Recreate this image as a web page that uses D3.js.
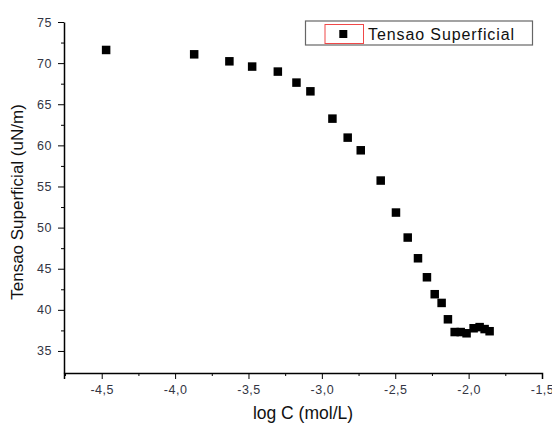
<!doctype html>
<html lang="en">
<head>
    <meta charset="utf-8">
    <title>Tensao Superficial</title>
    <script src="https://cdn.jsdelivr.net/npm/d3@7"></script>
    <style>
        body { margin: 0; background: #fff; }
        svg { display: block; font-family: Arial, "Liberation Sans", sans-serif; }
        .tick text { fill: #333544; font-size: 12.5px; letter-spacing: 0.5px; }
    </style>
</head>
<body>
    <svg></svg>
    <script>
        var width = 552;
        var height = 425;

        // log C (mol/L) vs tensao superficial (uN/m)
        var logC = [-4.47, -3.87, -3.63, -3.475, -3.30, -3.173, -3.078, -2.928, -2.824, -2.735,
            -2.599, -2.495, -2.415, -2.345, -2.284, -2.231, -2.184, -2.141,
            -2.095, -2.054, -2.014, -1.966, -1.925, -1.891, -1.857];
        var tensao = [71.6, 71.07, 70.22, 69.58, 68.97, 67.63, 66.57, 63.25, 60.94, 59.4,
            55.72, 51.83, 48.79, 46.27, 43.96, 41.9, 40.84, 38.85,
            37.3, 37.3, 37.15, 37.76, 37.9, 37.66, 37.4];
        var xTicks = [-4.5, -4.0, -3.5, -3.0, -2.5, -2.0, -1.5];
        var yTicks = [35, 40, 45, 50, 55, 60, 65, 70, 75];
        var seriesName = 'Tensao Superficial';

        var plotLeft = 64, plotRight = 542, plotTop = 22, plotBottom = 373;

        var xScale = d3.scaleLinear().domain([-4.757, -1.5]).range([plotLeft, plotRight]);
        var yScale = d3.scaleLinear().domain([32.32, 75]).range([plotBottom, plotTop]);

        var svg = d3.select('svg').attr('width', width).attr('height', height);
        var fmt = function (d) { return d.toFixed(1).replace('.', ','); };

        // minor ticks
        var xMinor = d3.range(-4.75, -1.5, 0.5);
        var yMinor = d3.range(37.5, 75, 5);

        svg.append('g')
            .attr('transform', 'translate(0,' + plotBottom + ')')
            .call(d3.axisBottom(xScale).tickValues(xMinor).tickSize(3).tickFormat(''))
            .call(function (g) { g.select('.domain').remove(); });
        svg.append('g')
            .attr('transform', 'translate(' + plotLeft + ',0)')
            .call(d3.axisLeft(yScale).tickValues(yMinor).tickSize(3).tickFormat(''))
            .call(function (g) { g.select('.domain').remove(); });

        svg.append('g')
            .attr('transform', 'translate(0,' + plotBottom + ')')
            .call(d3.axisBottom(xScale).tickValues(xTicks).tickSize(6).tickSizeOuter(6).tickPadding(6).tickFormat(fmt));
        svg.append('g')
            .attr('transform', 'translate(' + plotLeft + ',0)')
            .call(d3.axisLeft(yScale).tickValues(yTicks).tickSize(6).tickSizeOuter(0).tickPadding(6).tickFormat(function (d) { return d; }));

        svg.selectAll('.domain').attr('stroke', '#000').attr('stroke-width', 1.5);
        svg.selectAll('.tick line').attr('stroke', '#000');

        // axis titles
        svg.append('text')
            .attr('x', (plotLeft + plotRight) / 2)
            .attr('y', 419)
            .attr('text-anchor', 'middle')
            .attr('font-size', '17.5px')
            .attr('fill', '#111')
            .text('log C (mol/L)');
        svg.append('text')
            .attr('transform', 'translate(23,' + 202 + ') rotate(-90)')
            .attr('text-anchor', 'middle')
            .attr('font-size', '17px')
            .attr('fill', '#111')
            .text('Tensao Superficial (uN/m)');

        // points
        var sz = 8.5;
        svg.selectAll('rect.pt')
            .data(logC)
            .enter()
            .append('rect')
            .attr('class', 'pt')
            .attr('x', function (d) { return xScale(d) - sz / 2; })
            .attr('y', function (d, i) { return yScale(tensao[i]) - sz / 2; })
            .attr('width', sz)
            .attr('height', sz)
            .attr('fill', '#000');

        // legend
        var lg = svg.append('g');
        lg.append('rect')
            .attr('x', 305.5).attr('y', 21)
            .attr('width', 227).attr('height', 24)
            .attr('fill', '#fff').attr('stroke', '#666').attr('stroke-width', 1.2);
        lg.append('rect')
            .attr('x', 325).attr('y', 24.5)
            .attr('width', 38.5).attr('height', 19)
            .attr('fill', 'none').attr('stroke', '#f04848').attr('stroke-width', 1);
        lg.append('rect')
            .attr('x', 343.3 - 4).attr('y', 34 - 4)
            .attr('width', 8).attr('height', 8)
            .attr('fill', '#000');
        lg.append('text')
            .attr('x', 368)
            .attr('y', 39.5)
            .attr('font-size', '16px')
            .attr('letter-spacing', '0.9px')
            .attr('fill', '#111')
            .text(seriesName);
    </script>
</body>
</html>
